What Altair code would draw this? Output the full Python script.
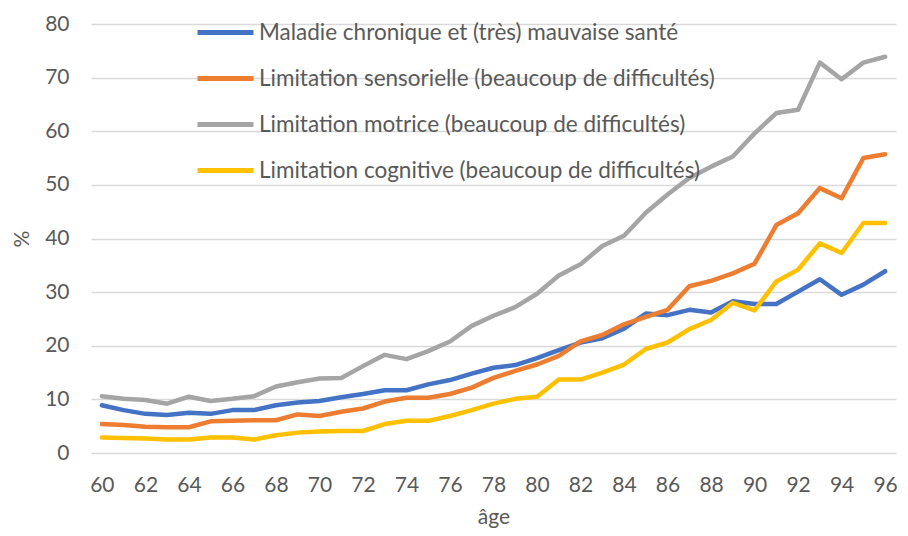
import altair as alt
import pandas as pd

ages = [60, 61, 62, 63, 64, 65, 66, 67, 68, 69, 70, 71, 72, 73, 74, 75, 76, 77, 78,
        79, 80, 81, 82, 83, 84, 85, 86, 87, 88, 89, 90, 91, 92, 93, 94, 95, 96]

series_names = [
    "Maladie chronique et (très) mauvaise santé",
    "Limitation sensorielle (beaucoup de difficultés)",
    "Limitation motrice (beaucoup de difficultés)",
    "Limitation cognitive (beaucoup de difficultés)",
]

maladie = [8.9, 8.0, 7.3, 7.1, 7.5, 7.3, 8.0, 8.0, 8.9, 9.4, 9.7, 10.4, 11.0, 11.7, 11.7,
           12.8, 13.6, 14.8, 15.9, 16.4, 17.7, 19.2, 20.6, 21.4, 23.2, 26.0, 25.7, 26.7,
           26.2, 28.3, 27.8, 27.8, 30.1, 32.4, 29.5, 31.4, 33.9]
sensorielle = [5.4, 5.2, 4.9, 4.8, 4.8, 5.9, 6.0, 6.1, 6.1, 7.2, 6.9, 7.7, 8.3, 9.6, 10.3,
               10.3, 11.0, 12.2, 14.0, 15.3, 16.5, 18.1, 20.8, 22.0, 24.0, 25.4, 26.7, 31.1,
               32.1, 33.5, 35.3, 42.5, 44.7, 49.4, 47.5, 55.0, 55.7]
motrice = [10.6, 10.1, 9.9, 9.2, 10.5, 9.7, 10.1, 10.6, 12.4, 13.2, 13.9, 14.0, 16.2, 18.3,
           17.5, 19.0, 20.8, 23.7, 25.6, 27.2, 29.7, 33.1, 35.2, 38.6, 40.5, 44.8, 48.2,
           51.3, 53.4, 55.3, 59.6, 63.4, 64.0, 72.8, 69.7, 72.8, 73.9]
cognitive = [2.9, 2.8, 2.7, 2.5, 2.5, 2.9, 2.9, 2.5, 3.3, 3.8, 4.0, 4.1, 4.1, 5.4, 6.0,
             6.0, 6.9, 8.0, 9.2, 10.1, 10.5, 13.7, 13.7, 15.0, 16.5, 19.4, 20.6, 23.1,
             24.8, 28.0, 26.6, 32.0, 34.2, 39.1, 37.3, 42.9, 42.9]

colors = ["#4472C4", "#ED7D31", "#A5A5A5", "#FFC000"]
x_ticks = [60, 62, 64, 66, 68, 70, 72, 74, 76, 78, 80, 82, 84, 86, 88, 90, 92, 94, 96]
y_ticks = [0, 10, 20, 30, 40, 50, 60, 70, 80]

rows = []
for name, vals in zip(series_names, [maladie, sensorielle, motrice, cognitive]):
    for a, v in zip(ages, vals):
        rows.append({"age": a, "value": v, "serie": name})
df = pd.DataFrame(rows)

FONT = "Lato"
TXT = "#595959"

chart = alt.Chart(df).mark_line(strokeWidth=4.5, strokeJoin="round", strokeCap="round").encode(
    x=alt.X("age:Q",
            scale=alt.Scale(domain=[59.5, 96.5], nice=False, zero=False),
            axis=alt.Axis(values=x_ticks, grid=False, domain=False, ticks=False,
                          title="âge", labelPadding=21, titlePadding=11,
                          labelFontSize=21, titleFontSize=21, labelFont=FONT, titleFont=FONT,
                          labelColor=TXT, titleColor=TXT, titleFontWeight="normal")),
    y=alt.Y("value:Q",
            scale=alt.Scale(domain=[0, 80], nice=False),
            axis=alt.Axis(values=y_ticks, grid=True, gridColor="#D9D9D9", gridWidth=1.5,
                          domain=False, ticks=False, title="%", labelPadding=22,
                          titlePadding=12, labelFontSize=21, titleFontSize=21,
                          labelFont=FONT, titleFont=FONT, labelColor=TXT, titleColor=TXT,
                          titleFontWeight="normal")),
    color=alt.Color("serie:N",
                    scale=alt.Scale(domain=series_names, range=colors),
                    legend=alt.Legend(orient="none", legendX=104, legendY=-22, title=None,
                                      symbolType="stroke", symbolSize=3136,
                                      symbolStrokeWidth=5, labelFontSize=22.5,
                                      labelFont=FONT, labelColor=TXT, labelOffset=3,
                                      rowPadding=4, padding=0, labelLimit=700)),
    detail="serie:N",
    order=alt.Order("age:Q"),
).properties(
    width=805,
    height=429,
    autosize=alt.AutoSizeParams(type="none"),
    padding={"left": 83, "top": 16, "right": 4, "bottom": 75},
).configure_view(stroke=None)

chart.save("out.html", embed_options={"renderer": "svg", "actions": False})
